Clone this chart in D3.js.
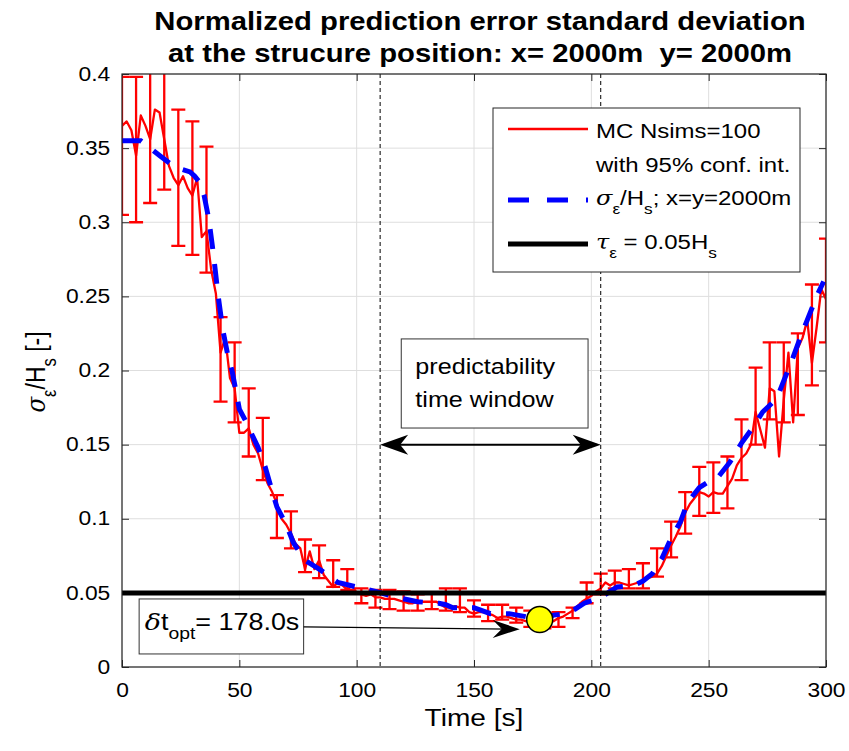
<!DOCTYPE html>
<html>
<head>
<meta charset="utf-8">
<script src="https://cdnjs.cloudflare.com/ajax/libs/d3/7.8.5/d3.min.js"></script>
<style>
body { margin: 0; background: #fff; }
svg { display: block; }
text { font-family: "Liberation Sans", Arial, Helvetica, sans-serif; fill: #000; }
</style>
</head>
<body>
<svg id="chart" width="849" height="751"></svg>
<script>
// MC estimate (red), sampled every 2 s
var redV = [
  0.365,0.368,0.362,0.345,0.372,0.365,0.356,0.376,0.374,0.356,
  0.338,0.330,0.325,0.331,0.323,0.318,0.330,0.290,0.294,0.268,
  0.252,0.212,0.222,0.195,0.188,0.158,0.158,0.161,0.150,0.144,
  0.133,0.124,0.118,0.110,0.100,0.096,0.090,0.083,0.080,0.066,
  0.078,0.066,0.072,0.062,0.058,0.054,0.057,0.055,0.052,0.055,
  0.050,0.049,0.048,0.049,0.047,0.047,0.046,0.046,0.046,0.045,
  0.044,0.043,0.043,0.044,0.044,0.044,0.044,0.044,0.042,0.040,
  0.040,0.041,0.040,0.040,0.037,0.036,0.037,0.037,0.036,0.035,
  0.033,0.034,0.034,0.033,0.032,0.032,0.031,0.030,0.030,0.030,
  0.030,0.030,0.031,0.033,0.034,0.036,0.038,0.041,0.044,0.046,
  0.048,0.051,0.053,0.057,0.055,0.057,0.057,0.056,0.055,0.056,
  0.057,0.058,0.060,0.061,0.063,0.068,0.075,0.082,0.088,0.095,
  0.104,0.110,0.114,0.118,0.117,0.115,0.118,0.117,0.117,0.122,
  0.127,0.136,0.141,0.144,0.150,0.172,0.160,0.148,0.188,0.186,
  0.142,0.180,0.212,0.165,0.215,0.222,0.234,0.205,0.229,0.255,
  0.248
];
var redT = d3.range(0, 301, 2);

// 95% confidence interval, every 6 s
var errT = d3.range(0, 301, 6);
var errLo = [
  0.305,0.300,0.313,0.322,0.284,0.278,0.266,0.179,0.165,0.142,
  0.126,0.087,0.080,0.064,0.060,0.054,0.052,0.043,0.040,0.039,
  0.038,0.038,0.039,0.038,0.037,0.034,0.031,0.032,0.030,0.027,
  0.026,0.027,0.033,0.043,0.049,0.053,0.053,0.053,0.061,0.074,
  0.090,0.102,0.104,0.107,0.126,0.150,0.167,0.165,0.170,0.190,
  0.219
];
var errHi = [
  0.398,0.398,0.430,0.430,0.376,0.368,0.351,0.236,0.219,0.188,
  0.168,0.116,0.105,0.086,0.082,0.072,0.066,0.053,0.052,0.052,
  0.051,0.049,0.050,0.053,0.053,0.045,0.042,0.042,0.040,0.038,
  0.036,0.037,0.040,0.057,0.063,0.065,0.066,0.070,0.080,0.098,
  0.118,0.135,0.138,0.142,0.167,0.202,0.219,0.219,0.225,0.258,
  0.289
];

// theoretical curve (blue dashed)
var blueT = [0,8,12,16,21,25,29,31,33,35,37,39,41,43,45,47,50,53,55,58,61,63,66,70,73,78,82,85,92,100,
  108,117,126,135,138,141,150,157,165,172,178,184,189,193,197,204,211,218,222,226,230,234,238,241,246,
  250,254,259,264,269,273,277,279,283,286,289,292,296,299];
var blueV = [0.355,0.355,0.350,0.345,0.339,0.336,0.334,0.331,0.327,0.318,0.302,0.278,0.250,0.227,0.211,0.199,0.174,0.165,0.158,0.148,
  0.135,0.124,0.108,0.096,0.084,0.072,0.068,0.065,0.057,0.054,0.051,0.047,0.044,0.043,0.042,0.040,0.040,0.036,0.036,0.034,
  0.032,0.035,0.036,0.039,0.043,0.047,0.054,0.055,0.058,0.063,0.073,0.087,0.098,0.111,0.121,0.125,0.128,0.138,0.151,0.162,
  0.172,0.178,0.181,0.197,0.209,0.222,0.234,0.250,0.260];

var limitV = 0.05;
var windowT = [110, 204];
var tOpt = 178.0, sOpt = 0.032;
var xTicks = [0, 50, 100, 150, 200, 250, 300];
var yTicks = [0, 0.05, 0.1, 0.15, 0.2, 0.25, 0.3, 0.35, 0.4];

var SX = 1.17; // text in the figure is rendered wide
var x = d3.scaleLinear().domain([0, 300]).range([122, 826]);
var y = d3.scaleLinear().domain([0, 0.4]).range([667, 74]);
var svg = d3.select("#chart");
var axisCol = "#262626";

svg.append("defs").append("clipPath").attr("id", "plotclip")
  .append("rect").attr("x", x(0)).attr("y", y(0.4))
  .attr("width", x(300) - x(0)).attr("height", y(0) - y(0.4));

// rich text with subscripts, stretched horizontally
function richText(g, parts, size, tf, anchor, weight) {
  var t = g.append("text").attr("transform", tf)
    .attr("text-anchor", anchor || "start")
    .style("font-size", size + "px").style("white-space", "pre");
  if (weight) t.style("font-weight", weight);
  var shift = 0;
  parts.forEach(function(p) {
    var target = p.sub ? size * 0.42 : 0;
    var ts = t.append("tspan").text(p.t).attr("dy", target - shift);
    if (p.sub) ts.style("font-size", (size * 0.72) + "px");
    if (p.it) ts.style("font-style", "italic").style("font-family", "'DejaVu Serif', serif");
    shift = target;
  });
  return t;
}
function tr(px, py) { return "translate(" + px + "," + py + ") scale(" + SX + ",1)"; }

// grid
var grid = svg.append("g").attr("stroke", "#dedede").attr("stroke-width", 1);
grid.selectAll(".gx").data(xTicks).enter().append("line")
  .attr("x1", function(d) { return x(d); }).attr("x2", function(d) { return x(d); })
  .attr("y1", y(0)).attr("y2", y(0.4));
grid.selectAll(".gy").data(yTicks).enter().append("line")
  .attr("y1", function(d) { return y(d); }).attr("y2", function(d) { return y(d); })
  .attr("x1", x(0)).attr("x2", x(300));

// axes with inward ticks
var fmt = function(d) { return String(+d.toFixed(2)); };
function styleAxis(g) {
  g.select(".domain").remove();
  g.selectAll("line").attr("stroke", axisCol);
  g.selectAll("text").style("font-size", "19.5px").attr("fill", "#262626")
    .attr("transform", "scale(" + SX + ",1)");
}
svg.append("g").attr("transform", "translate(0," + y(0) + ")")
  .call(d3.axisBottom(x).tickValues(xTicks).tickSize(-7).tickPadding(16).tickFormat(d3.format("d")))
  .call(styleAxis);
svg.append("g").attr("transform", "translate(" + x(0) + ",0)")
  .call(d3.axisLeft(y).tickValues(yTicks).tickSize(-7).tickPadding(10).tickFormat(fmt))
  .call(styleAxis);
svg.append("g").attr("transform", "translate(0," + y(0.4) + ")")
  .call(d3.axisTop(x).tickValues(xTicks).tickSize(-7).tickFormat(""))
  .call(styleAxis);
svg.append("g").attr("transform", "translate(" + x(300) + ",0)")
  .call(d3.axisRight(y).tickValues(yTicks).tickSize(-7).tickFormat(""))
  .call(styleAxis);

// data
var plot = svg.append("g").attr("clip-path", "url(#plotclip)");
var redData = redT.map(function(t, i) { return [t, redV[i]]; });
var line = d3.line().x(function(d) { return x(d[0]); }).y(function(d) { return y(d[1]); });

plot.append("path").datum(redData).attr("d", line)
  .attr("fill", "none").attr("stroke", "#ff0000").attr("stroke-width", 2.3).attr("stroke-linejoin", "round");

var cap = 7;
var bars = plot.append("g").attr("stroke", "#ff0000").attr("stroke-width", 2.3).attr("fill", "none");
errT.forEach(function(t, i) {
  var cx = x(t), lo = y(errLo[i]), hi = y(errHi[i]);
  bars.append("path").attr("d",
    "M" + cx + "," + lo + "V" + hi +
    "M" + (cx - cap) + "," + lo + "H" + (cx + cap) +
    "M" + (cx - cap) + "," + hi + "H" + (cx + cap));
});

var blueData = blueT.map(function(t, i) { return [t, blueV[i]]; });
plot.append("path").datum(blueData).attr("d", line)
  .attr("fill", "none").attr("stroke", "#0000ff").attr("stroke-width", 5)
  .attr("stroke-dasharray", "20,15");

plot.append("line").attr("x1", x(0)).attr("x2", x(300))
  .attr("y1", y(limitV)).attr("y2", y(limitV))
  .attr("stroke", "#000").attr("stroke-width", 5);

// predictability window bounds
windowT.forEach(function(t) {
  svg.append("line").attr("x1", x(t)).attr("x2", x(t)).attr("y1", y(0.4)).attr("y2", y(0))
    .attr("stroke", "#000").attr("stroke-width", 1).attr("stroke-dasharray", "4,3");
});

// frame
svg.append("rect").attr("x", x(0)).attr("y", y(0.4))
  .attr("width", x(300) - x(0)).attr("height", y(0) - y(0.4))
  .attr("fill", "none").attr("stroke", axisCol).attr("stroke-width", 1.2);

// arrow heads
function head(tx, ty, ang, L, w, n) {
  var dx = Math.cos(ang), dy = Math.sin(ang), px = -dy, py = dx;
  return "M" + tx + "," + ty +
    "L" + (tx - L * dx + w * px) + "," + (ty - L * dy + w * py) +
    "L" + (tx - (L - n) * dx) + "," + (ty - (L - n) * dy) +
    "L" + (tx - L * dx - w * px) + "," + (ty - L * dy - w * py) + "Z";
}

// double arrow for the window
var ay = y(0.15);
svg.append("line").attr("x1", x(windowT[0]) + 4).attr("x2", x(windowT[1]) - 4)
  .attr("y1", ay).attr("y2", ay).attr("stroke", "#000").attr("stroke-width", 2);
svg.append("path").attr("d", head(x(windowT[0]), ay, Math.PI, 28, 10, 8)).attr("fill", "#000");
svg.append("path").attr("d", head(x(windowT[1]), ay, 0, 28, 10, 8)).attr("fill", "#000");

// predictability text box
svg.append("rect").attr("x", x(119)).attr("y", y(0.2213))
  .attr("width", x(198.6) - x(119)).attr("height", y(0.1612) - y(0.2213))
  .attr("fill", "#fff").attr("stroke", "#333").attr("stroke-width", 1);
richText(svg, [{t: "predictability"}], 21.5, tr(x(125), y(0.1975)));
richText(svg, [{t: "time window"}], 21.5, tr(x(125), y(0.1755)));

// optimal time annotation
var bx0 = x(7.3), bx1 = x(77.4);
svg.append("rect").attr("x", bx0).attr("y", y(0.0459))
  .attr("width", bx1 - bx0).attr("height", y(0.0088) - y(0.0459))
  .attr("fill", "#fff").attr("stroke", "#333").attr("stroke-width", 1);
richText(svg, [{t: "δ", it: true}, {t: "t"}, {t: "opt", sub: true}, {t: "= 178.0s"}], 23, tr(x(9.7), y(0.0252)));
var tipX = x(169.5), tipY = y(0.0255), sy = y(0.027);
var ang = Math.atan2(tipY - sy, tipX - bx1);
svg.append("line").attr("x1", bx1).attr("y1", sy).attr("x2", tipX - 10 * Math.cos(ang)).attr("y2", tipY - 10 * Math.sin(ang))
  .attr("stroke", "#000").attr("stroke-width", 1.2);
svg.append("path").attr("d", head(tipX, tipY, ang, 27, 9, 9)).attr("fill", "#000");

svg.append("circle").attr("cx", x(tOpt)).attr("cy", y(sOpt)).attr("r", 13)
  .attr("fill", "#ffff00").attr("stroke", "#000").attr("stroke-width", 1.5);

// legend
var lg = svg.append("g");
lg.append("rect").attr("x", 493).attr("y", 108).attr("width", 307).attr("height", 164)
  .attr("fill", "#fff").attr("stroke", axisCol).attr("stroke-width", 1);
lg.append("line").attr("x1", 508).attr("x2", 588).attr("y1", 129).attr("y2", 129)
  .attr("stroke", "#ff0000").attr("stroke-width", 2.3);
lg.append("line").attr("x1", 508).attr("x2", 588).attr("y1", 200).attr("y2", 200)
  .attr("stroke", "#0000ff").attr("stroke-width", 5).attr("stroke-dasharray", "21,18");
lg.append("line").attr("x1", 508).attr("x2", 588).attr("y1", 244).attr("y2", 244)
  .attr("stroke", "#000").attr("stroke-width", 5);
richText(lg, [{t: "MC Nsims=100"}], 20.5, tr(596, 138));
richText(lg, [{t: "with 95% conf. int."}], 20.5, tr(596, 172));
richText(lg, [{t: "σ", it: true}, {t: "ε", sub: true}, {t: "/H"}, {t: "s", sub: true}, {t: "; x=y=2000m"}], 20.5, tr(596, 205));
richText(lg, [{t: "τ", it: true}, {t: "ε", sub: true}, {t: " = 0.05H"}, {t: "s", sub: true}], 20.5, tr(596, 249));

// titles and axis labels
richText(svg, [{t: "Normalized prediction error standard deviation"}], 25, tr(480, 30), "middle", "bold");
richText(svg, [{t: "at the strucure position: x= 2000m  y= 2000m"}], 25, tr(480, 62), "middle", "bold");
richText(svg, [{t: "Time [s]"}], 24, tr(474, 726), "middle");
richText(svg, [{t: "σ", it: true}, {t: "ε", sub: true}, {t: "/H"}, {t: "s", sub: true}, {t: " [-]"}], 23,
  "translate(45,372) rotate(-90) scale(1," + SX + ")", "middle");
</script>
</body>
</html>
